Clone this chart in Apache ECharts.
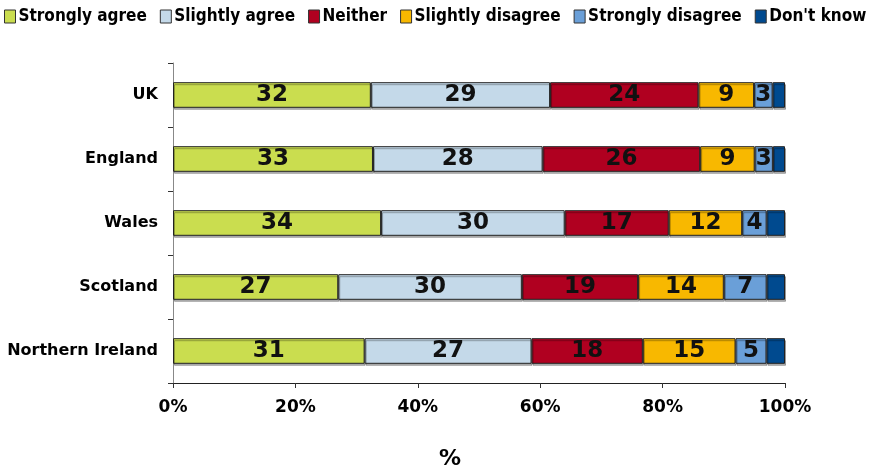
<!DOCTYPE html>
<html>
<head>
<meta charset="utf-8">
<script src="https://cdn.jsdelivr.net/npm/echarts@6/dist/echarts.min.js"></script>
<style>
html, body { margin: 0; padding: 0; background: #fff; }
#chart { width: 874px; height: 475px; }
</style>
</head>
<body>
<div id="chart"></div>
<script>
// categories, top to bottom as in the picture
var regions = ['UK', 'England', 'Wales', 'Scotland', 'Northern Ireland'];
var seriesNames = ['Strongly agree', 'Slightly agree', 'Neither', 'Slightly disagree', 'Strongly disagree', "Don't know"];

// raw values (%), in region order
var stronglyAgree = [32, 33, 34, 27, 31];
var slightlyAgree = [29, 28, 30, 30, 27];
var neither = [24, 26, 17, 19, 18];
var slightlyDisagree = [9, 9, 12, 14, 15];
var stronglyDisagree = [3, 3, 4, 7, 5];
var dontKnow = [2, 2, 3, 3, 3];

var colors = ['#CADD4F', '#C4D9E9', '#B00020', '#F8B800', '#6A9FD8', '#004A8F'];

var chart = echarts.init(document.getElementById('chart'));
var all = [stronglyAgree, slightlyAgree, neither, slightlyDisagree, stronglyDisagree, dontKnow];

// 100% stacked: share of each row total
var totals = regions.map(function (r, i) {
	var s = 0;
	all.forEach(function (a) { s += a[i]; });
	return s;
});

var series = all.map(function (arr, k) {
	return {
		name: seriesNames[k],
		type: 'bar',
		stack: 'total',
		barWidth: '40%',
		itemStyle: {
			color: colors[k], borderColor: '#222', borderWidth: 1,
			shadowColor: 'rgba(0,0,0,0.3)', shadowOffsetX: 1, shadowOffsetY: 2
		},
		label: {
			show: k < 5,
			position: 'inside',
			fontFamily: 'DejaVu Sans',
			fontWeight: 'bold',
			fontSize: 23,
			color: '#111',
			formatter: function (p) { return arr[p.dataIndex]; }
		},
		data: arr.map(function (v, i) { return v / totals[i] * 100; })
	};
});

var option = {
	animation: false,
	legend: {
		left: 4,
		top: 8,
		width: 870,
		padding: 0,
		icon: 'rect',
		itemWidth: 11,
		itemHeight: 13,
		itemGap: 13,
		textStyle: { fontFamily: 'DejaVu Sans Condensed', fontWeight: 'bold', fontSize: 17, color: '#000', padding: [0, 0, 0, -2] },
		itemStyle: { borderColor: '#333', borderWidth: 1 },
		data: seriesNames
	},
	grid: { left: 173, right: 89, top: 63, bottom: 88 },
	xAxis: {
		type: 'value',
		min: 0,
		max: 100,
		interval: 20,
		name: '%',
		nameLocation: 'middle',
		nameGap: 65,
		nameTextStyle: { fontFamily: 'DejaVu Sans', fontWeight: 'bold', fontSize: 22, color: '#000', padding: [0, 58, 0, 0] },
		splitLine: { show: false },
		axisLine: { show: true, lineStyle: { color: '#222' } },
		axisTick: { show: true, length: 5, lineStyle: { color: '#333' } },
		axisLabel: { formatter: '{value}%', fontFamily: 'DejaVu Sans', fontWeight: 'bold', fontSize: 17, color: '#000', margin: 16 }
	},
	yAxis: {
		type: 'category',
		inverse: true,
		data: regions,
		axisLine: { show: true, lineStyle: { color: '#888' } },
		axisTick: { show: true, length: 5, lineStyle: { color: '#333' } },
		axisLabel: { fontFamily: 'DejaVu Sans', fontWeight: 'bold', fontSize: 16, color: '#000', margin: 15 }
	},
	series: series
};
chart.setOption(option);
</script>
</body>
</html>
